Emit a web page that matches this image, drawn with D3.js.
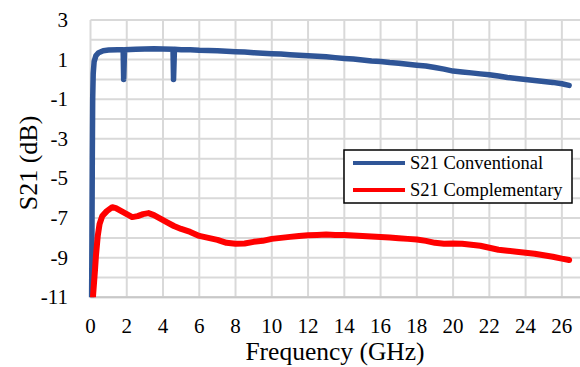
<!DOCTYPE html>
<html>
<head>
<meta charset="utf-8">
<script src="https://cdn.jsdelivr.net/npm/d3@7/dist/d3.min.js"></script>
<style>
  html, body { margin: 0; padding: 0; background: #fff; }
  svg { display: block; font-family: "Liberation Serif", "Times New Roman", serif; }
</style>
</head>
<body>
<svg id="chart" width="580" height="367"></svg>
<script>
// ---------- data ----------
const xTicks = [0, 2, 4, 6, 8, 10, 12, 14, 16, 18, 20, 22, 24, 26];
const yTicks = [3, 1, -1, -3, -5, -7, -9, -11];
const yGrid = [3, 2, 1, 0, -1, -2, -3, -4, -5, -6, -7, -8, -9, -10, -11];
const seriesNames = ["S21 Conventional", "S21 Complementary"];

const conventionalFreq = [0.06, 0.08, 0.10, 0.12, 0.15, 0.2, 0.3, 0.45, 0.7, 1.0, 1.5, 1.80, 1.83, 1.88, 2.5, 3.0, 3.5, 4.0, 4.55, 4.58, 4.63, 5.0, 5.5, 6.0, 6.5, 7.0, 7.5, 8.0, 8.5, 9.0, 9.5, 10, 10.5, 11, 11.5, 12, 12.5, 13, 13.5, 14, 14.5, 15, 15.5, 16, 16.5, 17, 17.5, 18, 18.5, 19, 19.5, 20, 20.5, 21, 21.5, 22, 22.5, 23, 23.5, 24, 24.5, 25, 25.5, 26, 26.4];
const conventionalS21 = [-11.2, -8, -4, -1, 0.3, 0.9, 1.2, 1.35, 1.45, 1.48, 1.5, 1.5, 0.0, 1.5, 1.52, 1.53, 1.55, 1.54, 1.52, 0.0, 1.52, 1.5, 1.5, 1.47, 1.46, 1.45, 1.42, 1.4, 1.38, 1.35, 1.32, 1.3, 1.28, 1.25, 1.22, 1.2, 1.17, 1.14, 1.1, 1.06, 1.03, 0.98, 0.93, 0.9, 0.85, 0.82, 0.77, 0.72, 0.68, 0.6, 0.52, 0.42, 0.38, 0.33, 0.28, 0.24, 0.17, 0.1, 0.05, 0.0, -0.05, -0.1, -0.15, -0.22, -0.3];

const complementaryFreq = [0.12, 0.15, 0.2, 0.25, 0.3, 0.4, 0.5, 0.65, 0.9, 1.2, 1.4, 1.7, 2.0, 2.3, 2.6, 2.9, 3.2, 3.5, 3.8, 4.2, 4.6, 5.0, 5.5, 6.0, 6.5, 7.0, 7.5, 8.0, 8.5, 9.0, 9.5, 10.0, 10.5, 11.0, 11.5, 12.0, 12.5, 13.0, 13.5, 14.0, 14.5, 15.0, 15.5, 16.0, 16.5, 17.0, 17.5, 18.0, 18.5, 19.0, 19.5, 20.0, 20.5, 21.0, 21.5, 22.0, 22.5, 23.0, 23.5, 24.0, 24.5, 25.0, 25.5, 26.0, 26.4];
const complementaryS21 = [-11.2, -10.8, -10.2, -9.6, -8.9, -7.9, -7.3, -6.9, -6.65, -6.45, -6.5, -6.65, -6.8, -6.95, -6.9, -6.8, -6.75, -6.85, -7.0, -7.2, -7.4, -7.55, -7.7, -7.9, -8.0, -8.1, -8.25, -8.3, -8.28, -8.2, -8.15, -8.05, -8.0, -7.95, -7.9, -7.87, -7.85, -7.83, -7.85, -7.85, -7.88, -7.9, -7.93, -7.95, -7.98, -8.02, -8.05, -8.08, -8.15, -8.25, -8.3, -8.28, -8.3, -8.35, -8.4, -8.5, -8.6, -8.65, -8.7, -8.75, -8.8, -8.88, -8.95, -9.05, -9.12];

// ---------- layout ----------
const svg = d3.select("#chart");
const pL = 90.5, pR = 580, pT = 20, pB = 297.3;
const x = d3.scaleLinear().domain([0, 27]).range([pL, pR]);
const y = d3.scaleLinear().domain([-11, 3]).range([pB, pT]);

const gridColor = "#d9d9d9";

// horizontal grid
svg.append("g").selectAll("line").data(yGrid).join("line")
  .attr("x1", pL).attr("x2", pR)
  .attr("y1", d => y(d)).attr("y2", d => y(d))
  .attr("stroke", gridColor).attr("stroke-width", 2);

// vertical grid
svg.append("g").selectAll("line").data(xTicks).join("line")
  .attr("x1", d => x(d)).attr("x2", d => x(d))
  .attr("y1", pT).attr("y2", pB)
  .attr("stroke", gridColor).attr("stroke-width", 2);

// bottom axis line
svg.append("line").attr("x1", pL).attr("x2", pR)
  .attr("y1", pB).attr("y2", pB)
  .attr("stroke", "#c8c8c8").attr("stroke-width", 2);

// clip
svg.append("clipPath").attr("id", "clip").append("rect")
  .attr("x", pL - 5).attr("y", pT - 5).attr("width", pR - pL + 10).attr("height", pB - pT + 5);

const line = d3.line().x(d => x(d[0])).y(d => y(d[1]));
const conv = conventionalFreq.map((f, i) => [f, conventionalS21[i]]);
const comp = complementaryFreq.map((f, i) => [f, complementaryS21[i]]);

const plot = svg.append("g").attr("clip-path", "url(#clip)");
plot.append("path").datum(conv).attr("d", line)
  .attr("fill", "none").attr("stroke", "#2f5597").attr("stroke-width", 5.5)
  .attr("stroke-linejoin", "round").attr("stroke-linecap", "round");
plot.append("path").datum(comp).attr("d", line)
  .attr("fill", "none").attr("stroke", "#ff0000").attr("stroke-width", 6)
  .attr("stroke-linejoin", "round").attr("stroke-linecap", "round");

// y tick labels
svg.append("g").selectAll("text").data(yTicks).join("text")
  .attr("x", 68).attr("y", d => y(d) + 7)
  .attr("text-anchor", "end").attr("font-size", 21).attr("fill", "#000")
  .text(d => String(d));

// x tick labels
svg.append("g").selectAll("text").data(xTicks).join("text")
  .attr("x", d => x(d)).attr("y", 333)
  .attr("text-anchor", "middle").attr("font-size", 21).attr("fill", "#000")
  .text(d => String(d));

// axis titles
svg.append("text").attr("x", 335).attr("y", 360)
  .attr("text-anchor", "middle").attr("font-size", 25.5).attr("fill", "#000")
  .text("Frequency (GHz)");
svg.append("text").attr("transform", "translate(37,163) rotate(-90)")
  .attr("text-anchor", "middle").attr("font-size", 26).attr("fill", "#000")
  .text("S21 (dB)");

// legend
const lg = svg.append("g");
lg.append("rect").attr("x", 344).attr("y", 150).attr("width", 228).attr("height", 53)
  .attr("fill", "#fff").attr("stroke", "#000").attr("stroke-width", 1.5);
const legendColors = ["#2f5597", "#ff0000"];
const legendY = [163, 190];
seriesNames.forEach((n, i) => {
  lg.append("line").attr("x1", 353).attr("x2", 405)
    .attr("y1", legendY[i]).attr("y2", legendY[i])
    .attr("stroke", legendColors[i]).attr("stroke-width", 4);
  lg.append("text").attr("x", 410).attr("y", legendY[i] + 6)
    .attr("font-size", 18.5).attr("fill", "#000").text(n);
});
</script>
</body>
</html>
